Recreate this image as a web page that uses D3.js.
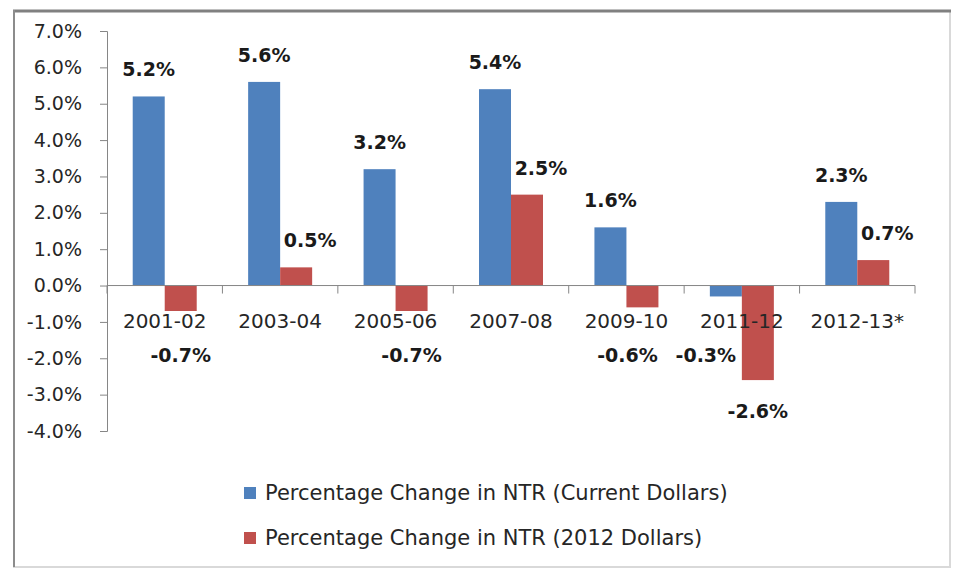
<!DOCTYPE html>
<html>
<head>
<meta charset="utf-8">
<script src="https://cdn.jsdelivr.net/npm/d3@7"></script>
<style>
  body { margin: 0; background: #fff; }
  text { font-family: "DejaVu Sans", "Open Sans", sans-serif; }
</style>
</head>
<body>
<svg id="chart"></svg>
<script>
//////////////// Daten ////////////////////
const categories = ["2001-02", "2003-04", "2005-06", "2007-08", "2009-10", "2011-12", "2012-13*"];
const currentDollars = [5.2, 5.6, 3.2, 5.4, 1.6, -0.3, 2.3];
const realDollars = [-0.7, 0.5, -0.7, 2.5, -0.6, -2.6, 0.7];
const seriesNames = ["Percentage Change in NTR (Current Dollars)", "Percentage Change in NTR (2012 Dollars)"];
const yTicks = [7, 6, 5, 4, 3, 2, 1, 0, -1, -2, -3, -4];

//////////////// Konstanten ////////////////////
const W = 956, H = 572;
const plot = {left: 107, right: 915, top: 31, bottom: 431};
const colors = ["#4F81BD", "#C0504D"];
const barW = 32;
const fmt = d => d3.format(".1f")(d).replace("\u2212", "-") + "%";

const svg = d3.select("#chart").attr("width", W).attr("height", H);

// Rahmen
svg.append("rect").attr("x", 14).attr("y", 11).attr("width", 936).attr("height", 556)
  .attr("fill", "#fff").attr("stroke", "#d9d9d9").attr("stroke-width", 2);
svg.append("line").attr("x1", 13).attr("x2", 951).attr("y1", 11).attr("y2", 11)
  .attr("stroke", "#808080").attr("stroke-width", 3);
svg.append("line").attr("x1", 14).attr("x2", 14).attr("y1", 10).attr("y2", 567)
  .attr("stroke", "#8c8c8c").attr("stroke-width", 2);

//////////////// Skalen ////////////////////
const x = d3.scaleBand().domain(categories).range([plot.left, plot.right]).padding(0);
const y = d3.scaleLinear().domain([-4, 7]).range([plot.bottom, plot.top]);
const inner = x.bandwidth() / 2 - barW;

// Y-Achse
const yAxis = svg.append("g")
  .attr("transform", "translate(" + plot.left + ",0)")
  .call(d3.axisLeft(y).tickValues(yTicks).tickSize(7).tickPadding(18).tickFormat(fmt));
yAxis.select(".domain").attr("stroke", "#868686");
yAxis.selectAll(".tick line").attr("stroke", "#868686");
yAxis.selectAll("text").attr("fill", "#262626").style("font-size", "19px")
  .style("font-family", "'DejaVu Sans', sans-serif");

//////////////// Balken ////////////////////
const series = [currentDollars, realDollars];
series.forEach(function(vals, s) {
  svg.append("g").selectAll("rect")
    .data(vals)
    .enter()
    .append("rect")
    .attr("x", (d, i) => x(categories[i]) + inner + s * barW)
    .attr("y", d => y(Math.max(0, d)))
    .attr("width", barW)
    .attr("height", d => Math.abs(y(d) - y(0)))
    .attr("fill", colors[s]);
});

// X-Achse (bei 0)
const xg = svg.append("g");
xg.append("line").attr("x1", plot.left).attr("x2", plot.right)
  .attr("y1", y(0)).attr("y2", y(0)).attr("stroke", "#868686");
xg.selectAll("line.tk")
  .data(categories.concat([null]))
  .enter().append("line").attr("class", "tk")
  .attr("x1", (d, i) => plot.left + i * x.bandwidth())
  .attr("x2", (d, i) => plot.left + i * x.bandwidth())
  .attr("y1", y(0)).attr("y2", y(0) + 8)
  .attr("stroke", "#868686");
xg.selectAll("text")
  .data(categories)
  .enter().append("text")
  .attr("x", d => x(d) + x.bandwidth() / 2)
  .attr("y", y(0) + 42)
  .attr("text-anchor", "middle")
  .attr("fill", "#262626")
  .style("font-size", "20px")
  .text(d => d);

//////////////// Beschriftungen ////////////////////
// Versatz der Datenbeschriftungen, damit sie sich nicht überlappen
function labelDx(d, i, s) {
  if (s === 0) return d < 0 ? -20 : 0;
  if (d > 0) return 14;
  return (i + 1 < currentDollars.length && currentDollars[i + 1] < 0) ? -15 : 0;
}
series.forEach(function(vals, s) {
  svg.append("g").selectAll("text")
    .data(vals)
    .enter()
    .append("text")
    .attr("x", (d, i) => x(categories[i]) + inner + s * barW + barW / 2 + labelDx(d, i, s))
    .attr("y", d => d >= 0 ? y(d) - 20 : Math.max(y(d) + 38, 362))
    .attr("text-anchor", "middle")
    .attr("fill", "#1a1a1a")
    .style("font-size", "19px")
    .style("font-weight", "bold")
    .text(fmt);
});

//////////////// Legende ////////////////////
const legend = svg.append("g").selectAll("g")
  .data(seriesNames)
  .enter().append("g")
  .attr("transform", (d, i) => "translate(244," + (493 + i * 45) + ")");
legend.append("rect").attr("x", 0).attr("y", -6).attr("width", 12).attr("height", 12)
  .attr("fill", (d, i) => colors[i]);
legend.append("text").attr("x", 21).attr("y", 7)
  .attr("fill", "#262626").style("font-size", "21px")
  .text(d => d);
</script>
</body>
</html>
